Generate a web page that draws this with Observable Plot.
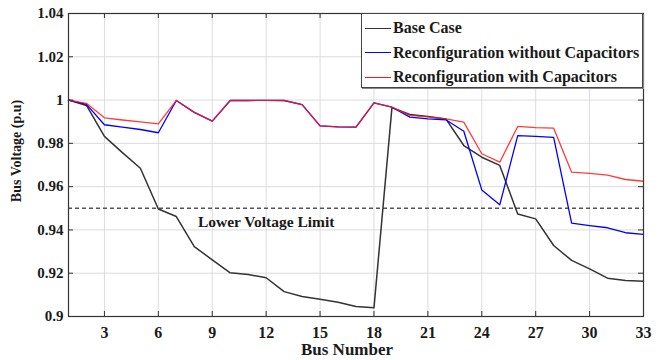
<!DOCTYPE html>
<html><head><meta charset="utf-8">
<script src="https://cdn.jsdelivr.net/npm/d3@7"></script>
<script src="https://cdn.jsdelivr.net/npm/@observablehq/plot@0.6"></script>
<style>
body{margin:0;background:#fff;}
#wrap{position:relative;width:660px;height:360px;font-family:"Liberation Serif","DejaVu Serif","Times New Roman",Times,serif;font-weight:bold;color:#1a1a1a;overflow:hidden;}
#wrap svg text{font-family:"Liberation Serif","DejaVu Serif","Times New Roman",Times,serif;}
#legend{position:absolute;left:361px;top:13px;width:280px;height:73px;border:1px solid #444;background:#fff;box-shadow:1px 1px 0 #888;}
.row{position:absolute;left:0;height:24px;display:flex;align-items:center;font-size:16px;white-space:nowrap;}
.sw{display:inline-block;width:26px;height:0;margin:0 2px 0 3px;}
#ylab{position:absolute;left:17px;top:151px;transform:translate(-50%,-50%) rotate(-90deg);font-size:14px;white-space:nowrap;}
#xlab{position:absolute;left:347px;top:350px;transform:translate(-50%,-50%);font-size:17px;white-space:nowrap;}
</style></head><body><div id="wrap"></div>
<script>
const bus = [1,2,3,4,5,6,7,8,9,10,11,12,13,14,15,16,17,18,19,20,21,22,23,24,25,26,27,28,29,30,31,32,33];
const baseCase = [1.0,0.9975,0.9832,0.9757,0.9685,0.9497,0.9462,0.9323,0.9262,0.9202,0.9194,0.9179,0.9115,0.9092,0.9080,0.9066,0.9046,0.9040,0.9965,0.9933,0.9924,0.9913,0.9790,0.9736,0.9698,0.9474,0.9451,0.9328,0.9259,0.9220,0.9177,0.9166,0.9163];
const withoutCap = [1.0,0.9980,0.9886,0.9875,0.9864,0.9849,0.9998,0.9943,0.9903,0.9998,0.9998,0.9999,0.9998,0.9979,0.9881,0.9876,0.9875,0.9987,0.9967,0.9921,0.9913,0.9909,0.9856,0.9585,0.9516,0.9836,0.9832,0.9828,0.9431,0.9420,0.9410,0.9387,0.9379];
const withCap = [1.0,0.9985,0.9918,0.9908,0.9899,0.9890,0.9998,0.9943,0.9903,0.9998,0.9998,0.9999,0.9998,0.9979,0.9881,0.9876,0.9875,0.9987,0.9967,0.9929,0.9922,0.9913,0.9898,0.9752,0.9713,0.9878,0.9873,0.9870,0.9667,0.9661,0.9653,0.9633,0.9625];
const seriesNames = ["Base Case","Reconfiguration without Capacitors","Reconfiguration with Capacitors"];
const seriesColors = ["#333333","#0000ff","#ff1a1a"];
const xTicks = [3,6,9,12,15,18,21,24,27,30,33];
const yTicks = [0.9,0.92,0.94,0.96,0.98,1.0,1.02,1.04];
const lowerLimit = 0.95;
const limitLabel = "Lower Voltage Limit";
const limitLabelBus = 8.2;
const xLabel = "Bus Number";
const yLabel = "Bus Voltage (p.u)";

const FONT = '"Liberation Serif","DejaVu Serif","Times New Roman",Times,serif';
const series = [baseCase, withoutCap, withCap];
const W = 660, H = 360, mL = 68, mR = 17, mT = 13, mB = 44;
const fw = W - mL - mR, fh = H - mT - mB;

const lineMarks = series.map((arr, i) =>
  Plot.line(bus.map((b, j) => ({bus: b, v: arr[j]})), {x: "bus", y: "v", stroke: seriesColors[i], strokeWidth: i === 0 ? 1.5 : 1.3, strokeOpacity: i === 2 ? 0.85 : 1})
);

const plot = Plot.plot({
  width: W, height: H, marginLeft: mL, marginRight: mR, marginTop: mT, marginBottom: mB,
  style: {fontFamily: FONT, fontWeight: "bold", color: "#1a1a1a", background: "#fff"},
  x: {domain: [1, 33]},
  y: {domain: [0.9, 1.04]},
  marks: [
    Plot.gridX(xTicks, {stroke: "#dcdcdc", strokeOpacity: 1}),
    Plot.gridY(yTicks, {stroke: "#dcdcdc", strokeOpacity: 1}),
    Plot.ruleY([lowerLimit], {stroke: "#555", strokeWidth: 1.4, strokeDasharray: "4,3"}),
    Plot.text([limitLabel], {x: limitLabelBus, y: lowerLimit, text: d => d, dy: 14, textAnchor: "start", fontSize: 15.5, fill: "#1a1a1a", fontFamily: FONT}),
    ...lineMarks,
    Plot.ruleX(xTicks, {x: d => d, insetTop: fh - 5, stroke: "#333"}),
    Plot.ruleX(xTicks, {x: d => d, insetBottom: fh - 5, stroke: "#333"}),
    Plot.ruleY(yTicks, {y: d => d, insetRight: fw - 5, stroke: "#333"}),
    Plot.ruleY(yTicks, {y: d => d, insetLeft: fw - 5, stroke: "#333"}),
    Plot.frame({stroke: "#333", strokeWidth: 1.2}),
    Plot.axisX(xTicks, {tickSize: 0, tickPadding: 10, label: null, fontSize: 16, fontFamily: FONT}),
    Plot.axisY(yTicks, {tickSize: 0, tickPadding: 5, label: null, fontSize: 15, fontFamily: FONT, tickFormat: d => String(+d.toFixed(2))})
  ]
});

const wrap = document.getElementById("wrap");
wrap.appendChild(plot);

const leg = document.createElement("div");
leg.id = "legend";
seriesNames.forEach((n, i) => {
  const r = document.createElement("div");
  r.className = "row";
  r.style.top = (2 + i * 24.5) + "px";
  const sw = document.createElement("span");
  sw.className = "sw";
  sw.style.borderTop = (i === 0 ? 1.5 : 1.3) + "px solid " + seriesColors[i];
  r.appendChild(sw);
  r.appendChild(document.createTextNode(n));
  leg.appendChild(r);
});
wrap.appendChild(leg);

const yl = document.createElement("div"); yl.id = "ylab"; yl.textContent = yLabel; wrap.appendChild(yl);
const xl = document.createElement("div"); xl.id = "xlab"; xl.textContent = xLabel; wrap.appendChild(xl);
</script>
</body></html>
